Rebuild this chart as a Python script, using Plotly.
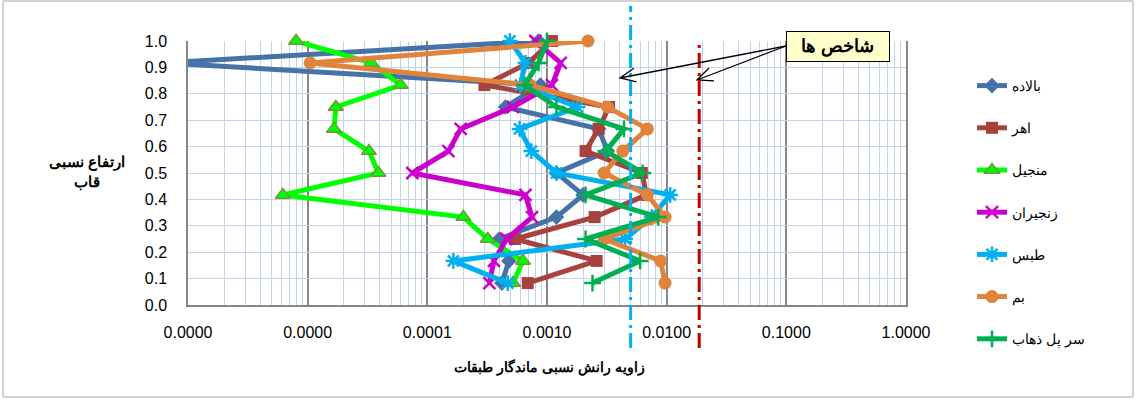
import math
import plotly.graph_objects as go

# Relative storey height (12 storeys)
heights = [0.083, 0.167, 0.250, 0.333, 0.417, 0.500, 0.583, 0.667, 0.750, 0.833, 0.917, 1.000]

# Residual inter-storey drift angle per record
drift_balade = [0.00042, 0.00048, 0.00040, 0.0012, 0.0020, 0.0012, 0.0032, 0.0027, 0.00045, 0.00088, 6.3e-7, 0.00085]
drift_ahar = [0.00069, 0.0026, 0.00054, 0.0025, 0.0068, 0.0062, 0.0021, 0.0027, 0.0033, 0.00030, 0.00070, 0.0011]
drift_manjil = [0.00052, 0.00063, 0.00032, 0.00020, 6.2e-6, 3.9e-5, 3.25e-5, 1.66e-5, 1.72e-5, 6.0e-5, 3.4e-5, 8.0e-6]
drift_zanjiran = [0.00033, 0.00036, 0.00046, 0.00075, 0.00066, 7.5e-5, 0.00015, 0.00019, 0.00052, 0.0011, 0.0013, 0.00080]
drift_tabas = [0.00047, 0.000165, 0.0045, 0.0075, 0.0107, 0.0012, 0.00074, 0.00059, 0.0018, 0.00060, 0.00066, 0.00049]
drift_bam = [0.0097, 0.0089, 0.0030, 0.0097, 0.0069, 0.0030, 0.0043, 0.0069, 0.0032, 0.00072, 1.05e-5, 0.0022]
drift_sarpol = [0.0024, 0.0060, 0.0021, 0.0085, 0.0021, 0.0063, 0.0031, 0.0044, 0.0012, 0.00065, 0.00085, 0.0010]

# Performance limits (indicators)
limit_values = [0.005, 0.0187]
limit_colors = ["#00b0f0", "#c00000"]

x_tickvals = [1e-6, 1e-5, 1e-4, 1e-3, 1e-2, 1e-1, 1.0]
x_ticktext = ["0.0000", "0.0000", "0.0001", "0.0010", "0.0100", "0.1000", "1.0000"]

series = [
    ("بالاده", drift_balade, "#4672aa", dict(symbol="diamond", size=12, color="#4672aa")),
    ("اهر", drift_ahar, "#a8423f", dict(symbol="square", size=12, color="#a8423f")),
    ("منجیل", drift_manjil, "#00ff00", dict(symbol="triangle-up", size=13, color="#00ff00",
                                             line=dict(color="#77933c", width=1.5))),
    ("زنجیران", drift_zanjiran, "#cc00cc", dict(symbol="x-thin-open", size=12,
                                                line=dict(color="#7d5a9c", width=2.5))),
    ("طبس", drift_tabas, "#00b0f0", dict(symbol="asterisk-open", size=13,
                                          line=dict(color="#31859c", width=2.5))),
    ("بم", drift_bam, "#e0843c", dict(symbol="circle", size=13, color="#e0843c")),
    ("سر پل ذهاب", drift_sarpol, "#00b050", dict(symbol="cross-thin-open", size=12,
                                                  line=dict(color="#8aa3c8", width=2.5))),
]

W, H = 1137, 405
ML, MR, MT, MB = 188, 231, 41, 100
PW, PH = W - ML - MR, H - MT - MB

fig = go.Figure()
for i, (name, xs, col, mk) in enumerate(series):
    fig.add_trace(go.Scatter(
        x=xs, y=heights, name=name, mode="lines+markers",
        line=dict(color=col, width=5), marker=mk,
        legendgroup=f"g{i}", cliponaxis=False,
    ))

def px_to_paper(px, py):
    return (px - ML) / PW, (H - MB - py) / PH

shapes = []
# vertical indicator lines
for val, col, ytop in zip(limit_values, limit_colors, [6, 40]):
    shapes.append(dict(type="line", xref="x", yref="paper", x0=val, x1=val,
                       y0=px_to_paper(0, 348)[1], y1=px_to_paper(0, ytop)[1],
                       line=dict(color=col, width=3, dash="15px,5px,3px,5px")))

# arrows from the note box to the indicator lines (open V heads)
tail = (786, 46)
for tip in [(620, 78), (697, 80)]:
    dx, dy = tail[0] - tip[0], tail[1] - tip[1]
    L = math.hypot(dx, dy)
    ux, uy = dx / L, dy / L
    arms = []
    for ang in (math.radians(24), -math.radians(24)):
        ax = 17 * (ux * math.cos(ang) - uy * math.sin(ang))
        ay = 17 * (ux * math.sin(ang) + uy * math.cos(ang))
        arms.append((ax, -ay))
    path = (f"M{dx:.1f},{-dy:.1f} L0,0 M{arms[0][0]:.1f},{arms[0][1]:.1f} L0,0 "
            f"L{arms[1][0]:.1f},{arms[1][1]:.1f}")
    xa, ya = px_to_paper(*tip)
    shapes.append(dict(type="path", xref="paper", yref="paper", xsizemode="pixel",
                       ysizemode="pixel", xanchor=xa, yanchor=ya, path=path,
                       line=dict(color="black", width=1.3)))

# outer chart frame
fx0, fy1 = px_to_paper(3, 1)
fx1, fy0 = px_to_paper(1133, 397)
shapes.append(dict(type="rect", xref="paper", yref="paper", x0=fx0, x1=fx1, y0=fy0, y1=fy1,
                   line=dict(color="#a6a6a6", width=1), layer="below"))

bx, by = px_to_paper(838, 47)
tx, ty = px_to_paper(549, 367)
yx, yy = px_to_paper(87, 172)

annotations = [
    dict(text="<b>شاخص ها</b>", xref="paper", yref="paper", x=bx, y=by, showarrow=False,
         xanchor="center", yanchor="middle",
         font=dict(family="Liberation Sans, Arial", size=18, color="black"),
         bgcolor="#ffffcc", bordercolor="black", borderwidth=1, width=100, height=27,
         borderpad=1),
    dict(text="<b>زاویه رانش نسبی ماندگار طبقات</b>", xref="paper", yref="paper", x=tx, y=ty,
         xanchor="center", yanchor="middle", showarrow=False,
         font=dict(family="Liberation Sans, Arial", size=14, color="black")),
    dict(text="<b>ارتفاع نسبی<br>قاب</b>", xref="paper", yref="paper", x=yx, y=yy,
         xanchor="center", yanchor="middle", showarrow=False,
         font=dict(family="Liberation Sans, Arial", size=15, color="black")),
]

fig.update_layout(
    width=W, height=H,
    margin=dict(l=ML, r=MR, t=MT, b=MB),
    paper_bgcolor="white", plot_bgcolor="white",
    font=dict(family="Liberation Sans, Arial", color="black"),
    showlegend=True,
    legend=dict(x=px_to_paper(972, 0)[0], xanchor="left", y=px_to_paper(0, 70)[1], yanchor="top",
                font=dict(size=14, color="black"), tracegroupgap=21, maxheight=390,
                bgcolor="rgba(0,0,0,0)"),
    shapes=shapes, annotations=annotations,
    xaxis=dict(type="log", range=[-6, 0], tickmode="array", tickvals=x_tickvals,
               ticktext=x_ticktext, showgrid=True, gridcolor="#868686", gridwidth=1.5,
               minor=dict(dtick="D1", showgrid=True, gridcolor="#c3d3e8", gridwidth=1),
               showline=True, linecolor="#868686", linewidth=2, ticks="",
               tickfont=dict(size=16), ticklabelstandoff=12, zeroline=False),
    yaxis=dict(range=[0, 1], dtick=0.1, tickformat=".1f", showgrid=True, gridcolor="#c3d3e8",
               gridwidth=1, showline=True, linecolor="#868686", linewidth=1.5, mirror=True,
               ticks="", tickfont=dict(size=16), ticklabelstandoff=16, zeroline=False),
    yaxis2=dict(range=[0, 1], dtick=0.1, overlaying="y", side="right", anchor="x",
                showgrid=False, showticklabels=False, ticks="inside", ticklen=6,
                tickcolor="#868686", showline=False, zeroline=False),
)

fig.write_html("out.html")
